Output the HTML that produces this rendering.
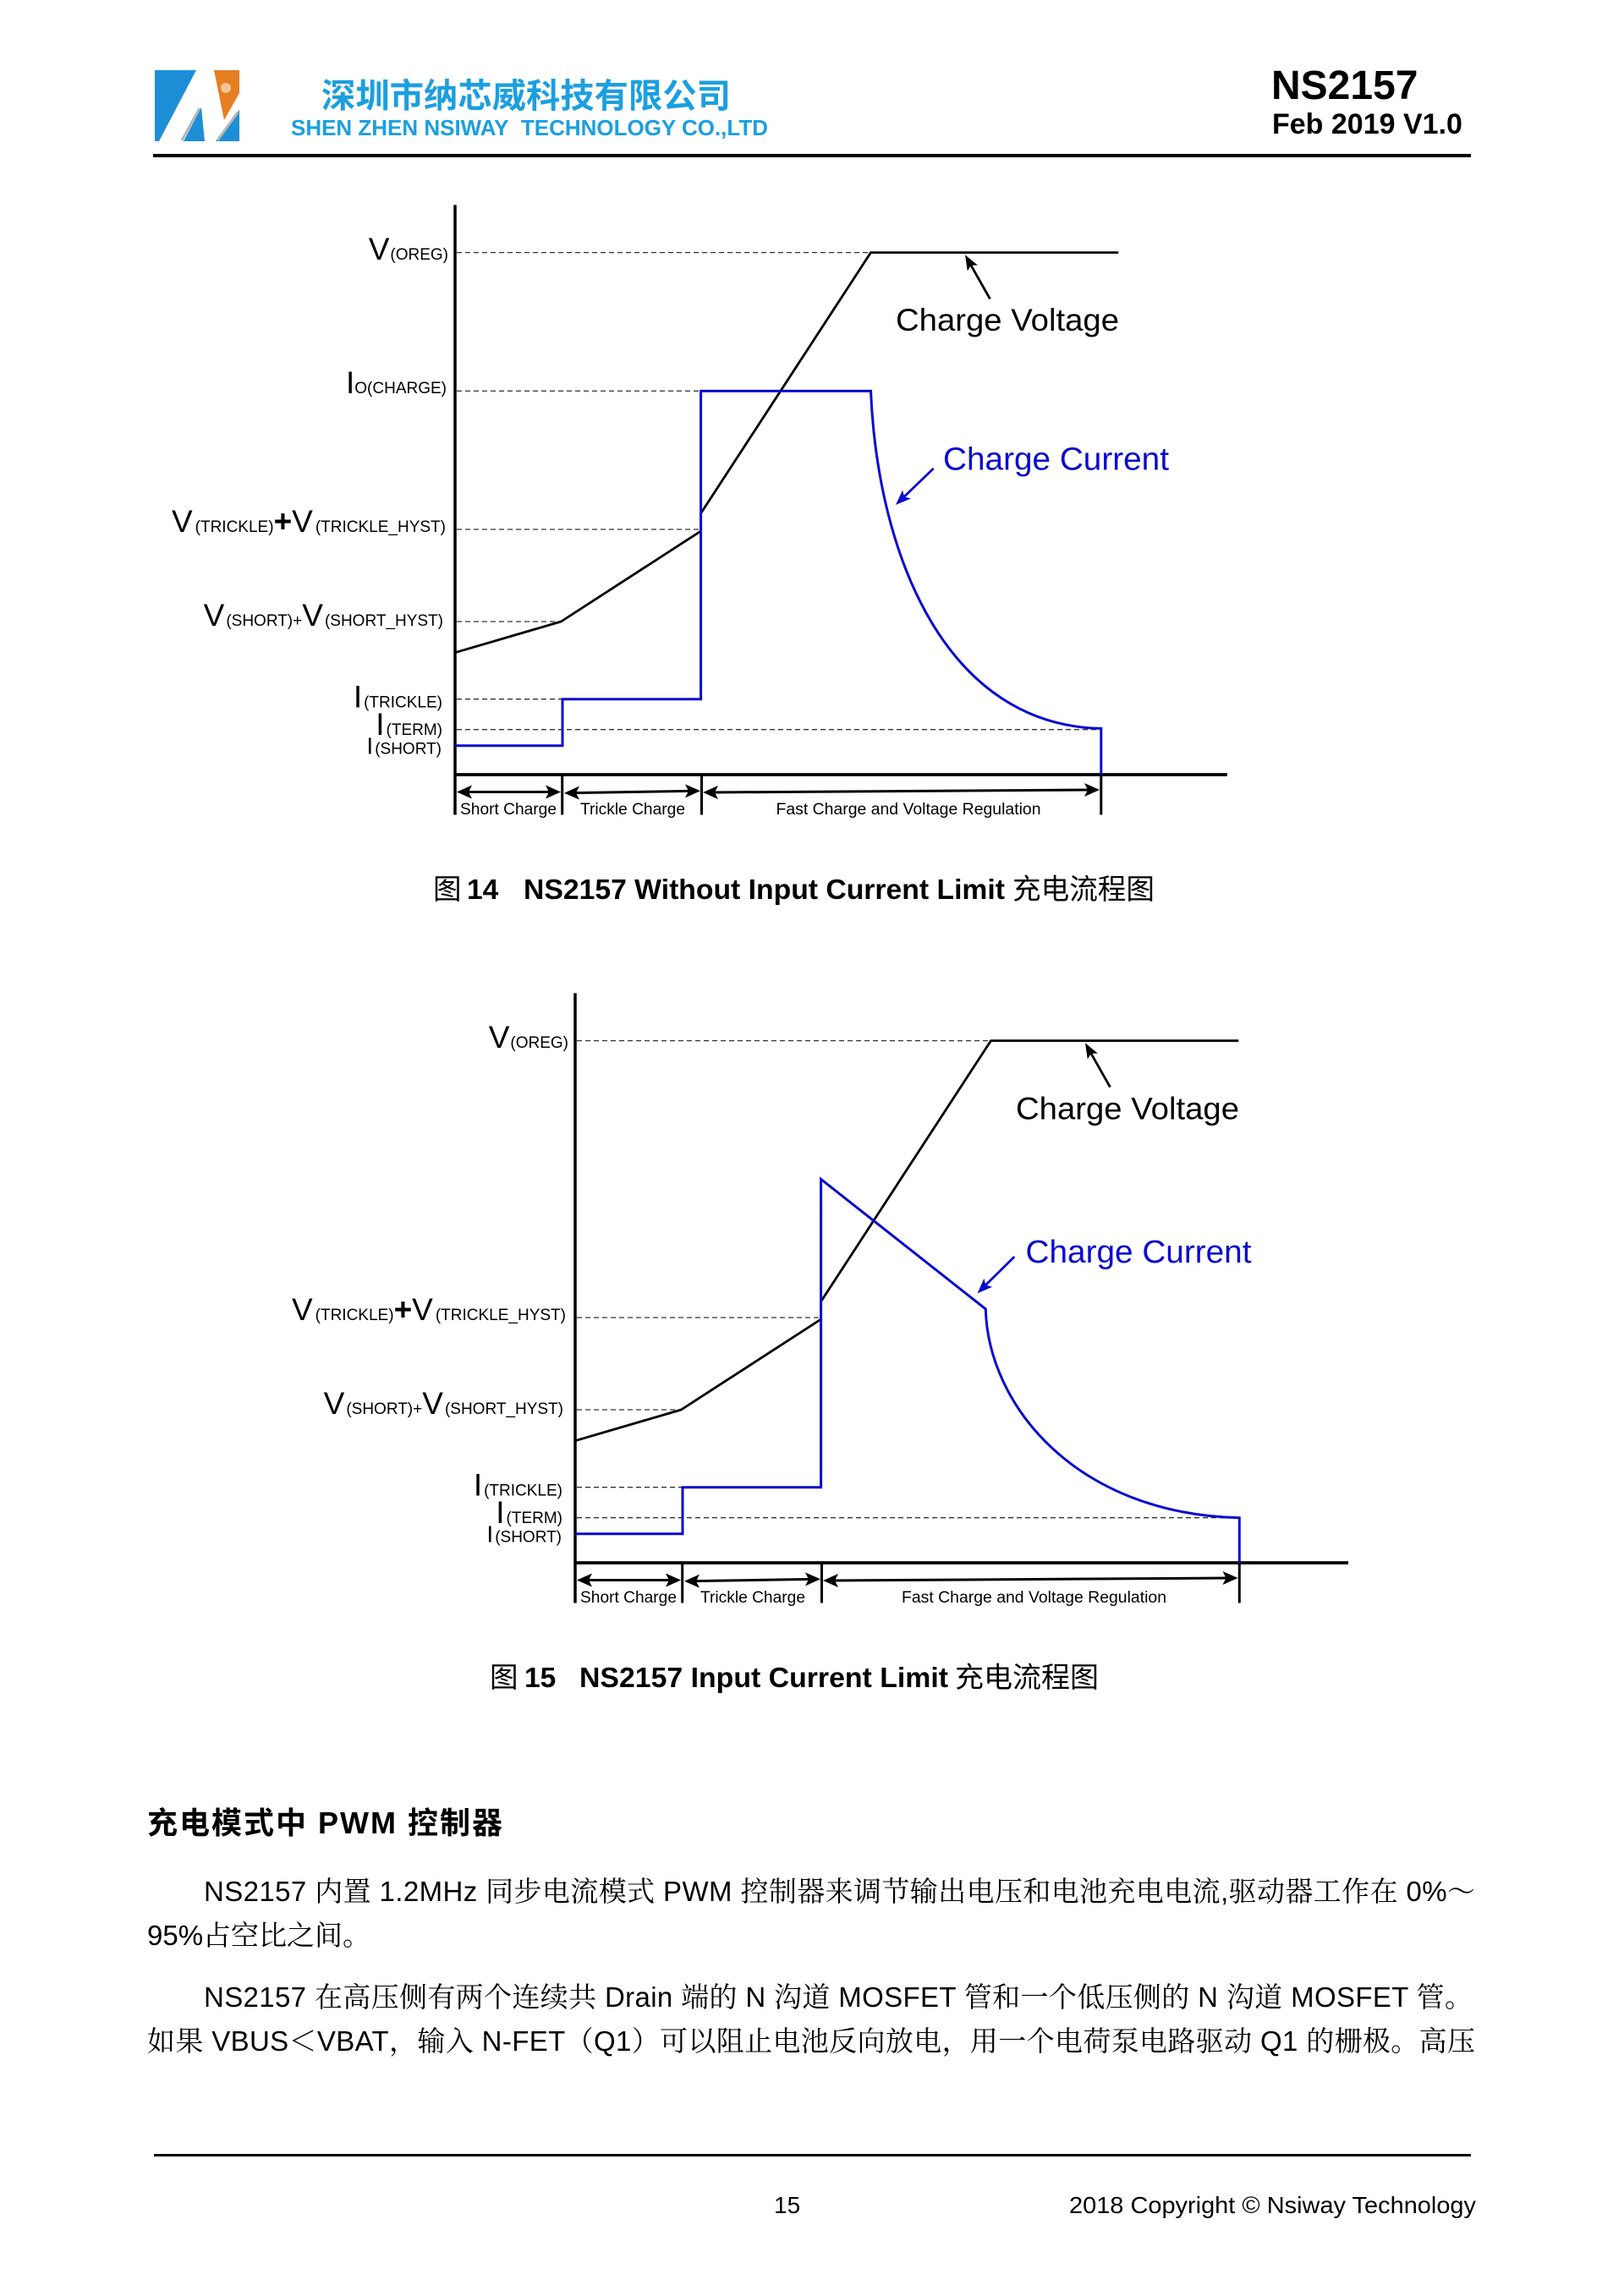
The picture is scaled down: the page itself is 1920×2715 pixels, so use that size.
<!DOCTYPE html>
<html><head><meta charset="utf-8">
<style>
html,body{margin:0;padding:0;background:#fff;}
svg{display:block;}
.s{font-family:"Liberation Sans","Noto Sans CJK SC",sans-serif;}
.b{font-family:"Liberation Sans","Noto Serif CJK SC",serif;}
.k{font-family:"Noto Sans CJK SC","WenQuanYi Zen Hei",sans-serif;}
</style></head>
<body>
<svg width="1920" height="2715" viewBox="0 0 1920 2715" xmlns="http://www.w3.org/2000/svg">
<rect width="1920" height="2715" fill="#fff"/>

<!-- ===== Header ===== -->
<polygon points="183,83 232,83 188,167 183,167" fill="#1d8fd6"/>
<polygon points="238,127 242,167 217,167" fill="#1d8fd6"/>
<polygon points="283,130 283,167 255,167" fill="#1d8fd6"/>
<polygon points="253,83 283,83 283,110 265,142" fill="#e67e22"/>
<circle cx="267" cy="104" r="6" fill="#fff" opacity=".55"/>
<line x1="236" y1="128" x2="215" y2="166" stroke="#b5b5b5" stroke-width="3"/>
<line x1="281" y1="133" x2="257" y2="166" stroke="#b5b5b5" stroke-width="3"/>

<text class="k" x="380" y="127" font-size="40" font-weight="bold" fill="#1b9fe0" textLength="484" lengthAdjust="spacingAndGlyphs">深圳市纳芯威科技有限公司</text>
<text class="s" x="344" y="160" font-size="26" font-weight="bold" fill="#1b9fe0" textLength="564" lengthAdjust="spacingAndGlyphs">SHEN ZHEN NSIWAY&#160; TECHNOLOGY CO.,LTD</text>
<text class="s" x="1503" y="117" font-size="48" font-weight="bold" fill="#000">NS2157</text>
<text class="s" x="1504" y="158" font-size="34" font-weight="bold" fill="#000">Feb 2019 V1.0</text>
<rect x="181" y="182" width="1558" height="4" fill="#000"/>

<!-- ===== Chart 1 ===== -->
<g fill="none" stroke="#333" stroke-width="1.3" stroke-dasharray="6 4">
<line x1="540" y1="298.6" x2="1029.5" y2="298.6"/>
<line x1="540" y1="462.4" x2="828.6" y2="462.4"/>
<line x1="540" y1="626" x2="828.6" y2="626"/>
<line x1="540" y1="735" x2="663.3" y2="735"/>
<line x1="540" y1="826.7" x2="665" y2="826.7"/>
<line x1="540" y1="862.7" x2="1301.8" y2="862.7"/>
</g>
<!-- axes -->
<line x1="538" y1="242.4" x2="538" y2="963.5" stroke="#000" stroke-width="3.5"/>
<line x1="536.5" y1="916" x2="1451" y2="916" stroke="#000" stroke-width="3.8"/>
<!-- voltage -->
<path d="M538,771.7 L663.3,735 L828.6,628 L828.6,607 L1029.5,298.6 L1322.3,298.6" fill="none" stroke="#000" stroke-width="2.8" stroke-linejoin="round"/>
<!-- current -->
<path d="M538,881.7 H665 V826.7 H828.6 V462.4 H1029.5 C1038,660 1120,858 1301.8,861.4 V916" fill="none" stroke="#0a0ad0" stroke-width="3" stroke-linejoin="miter"/>
<!-- ticks -->
<g stroke="#000" stroke-width="3">
<line x1="664.7" y1="916" x2="664.7" y2="963.5"/>
<line x1="829.5" y1="916" x2="829.5" y2="963.5"/>
<line x1="1301.8" y1="916" x2="1301.8" y2="963.5"/>
</g>
<!-- bottom arrows -->
<g stroke="#000" stroke-width="3">
<line x1="550" y1="936.5" x2="652" y2="936.5"/>
<line x1="678" y1="937.6" x2="816" y2="935.4"/>
<line x1="843" y1="937" x2="1288" y2="934"/>
</g>
<g fill="#000">
<polygon points="540,936.5 558,928.5 554,936.5 558,944.5"/>
<polygon points="663,936.5 645,928.5 649,936.5 645,944.5"/>
<polygon points="667,937.8 685,929.6 681,937.6 685,945.6"/>
<polygon points="828,935.2 810,927.4 814,935.4 810,943.4"/>
<polygon points="831,937 849,929 845,937 849,945"/>
<polygon points="1300,934 1282,926 1286,934 1282,942"/>
</g>
<!-- pointer arrows -->
<line x1="1170.5" y1="353.6" x2="1147.9" y2="313.6" stroke="#000" stroke-width="2.8"/>
<polygon points="1141,301.4 1155.9,313.6 1147.9,313.6 1143.8,320.5" fill="#000"/>
<line x1="1103.6" y1="554" x2="1069.1" y2="587.3" stroke="#0a0ad0" stroke-width="2.8"/>
<polygon points="1059,597 1067.1,579.5 1069.1,587.3 1076.8,589.6" fill="#0a0ad0"/>
<!-- series labels -->
<text class="s" x="1059" y="391" font-size="37.5" fill="#000" textLength="264" lengthAdjust="spacingAndGlyphs">Charge Voltage</text>
<text class="s" x="1115" y="555.6" font-size="38" fill="#0a0ad0" textLength="267" lengthAdjust="spacingAndGlyphs">Charge Current</text>
<!-- y labels -->
<g class="s" fill="#000" text-anchor="end">
<text x="530" y="307"><tspan font-size="37">V</tspan><tspan font-size="19" dx="1">(OREG)</tspan></text>
<text x="528" y="465"><tspan font-size="37">I</tspan><tspan font-size="19">O(CHARGE)</tspan></text>
<text x="527" y="629"><tspan font-size="37">V</tspan><tspan font-size="19" dx="3">(TRICKLE)</tspan><tspan font-size="37" font-weight="bold">+</tspan><tspan font-size="37">V</tspan><tspan font-size="19" dx="3">(TRICKLE_HYST)</tspan></text>
<text x="524" y="740"><tspan font-size="37">V</tspan><tspan font-size="19" dx="2">(SHORT)+</tspan><tspan font-size="37">V</tspan><tspan font-size="19" dx="2">(SHORT_HYST)</tspan></text>
<text x="523" y="836.7"><tspan font-size="37">I</tspan><tspan font-size="19" dx="2">(TRICKLE)</tspan></text>
<text x="523" y="869"><tspan font-size="37">I</tspan><tspan font-size="19" dx="2">(TERM)</tspan></text>
<text x="522" y="891.7"><tspan font-size="28">I</tspan><tspan font-size="19" dx="2">(SHORT)</tspan></text>
</g>
<!-- x labels -->
<g class="s" fill="#000" font-size="19">
<text x="544" y="963" textLength="114" lengthAdjust="spacingAndGlyphs">Short Charge</text>
<text x="686" y="963" textLength="124" lengthAdjust="spacingAndGlyphs">Trickle Charge</text>
<text x="917.5" y="963" textLength="313" lengthAdjust="spacingAndGlyphs">Fast Charge and Voltage Regulation</text>
</g>
<!-- caption 1 -->
<text class="k" x="512" y="1063" font-size="33.5" fill="#000">图</text>
<text class="s" x="552" y="1063" font-size="33.5" font-weight="bold" fill="#000">14</text>
<text class="s" x="619" y="1063" font-size="33.5" font-weight="bold" fill="#000" textLength="569" lengthAdjust="spacingAndGlyphs">NS2157 Without Input Current Limit</text>
<text class="k" x="1197" y="1063" font-size="33.5" fill="#000" textLength="168" lengthAdjust="spacingAndGlyphs">充电流程图</text>

<!-- ===== Chart 2 ===== -->
<g fill="none" stroke="#333" stroke-width="1.3" stroke-dasharray="6 4">
<line x1="682" y1="1230.6" x2="1171.5" y2="1230.6"/>
<line x1="682" y1="1558" x2="970.6" y2="1558"/>
<line x1="682" y1="1667" x2="805.3" y2="1667"/>
<line x1="682" y1="1758.7" x2="807" y2="1758.7"/>
<line x1="682" y1="1794.7" x2="1465.3" y2="1794.7"/>
</g>
<line x1="680" y1="1174.4" x2="680" y2="1895.5" stroke="#000" stroke-width="3.5"/>
<line x1="678.5" y1="1848" x2="1594" y2="1848" stroke="#000" stroke-width="3.8"/>
<path d="M680,1703.7 L805.3,1667 L970.6,1560 L970.6,1539 L1171.5,1230.6 L1464.3,1230.6" fill="none" stroke="#000" stroke-width="2.8" stroke-linejoin="round"/>
<path d="M680,1813.7 H807 V1758.7 H970.6 V1394.4 L1165.3,1547.9 C1168,1660 1270,1790 1465.3,1794.8 V1848" fill="none" stroke="#0a0ad0" stroke-width="3"/>
<g stroke="#000" stroke-width="3">
<line x1="806.7" y1="1848" x2="806.7" y2="1895.5"/>
<line x1="971.5" y1="1848" x2="971.5" y2="1895.5"/>
<line x1="1465.3" y1="1848" x2="1465.3" y2="1895.5"/>
</g>
<g stroke="#000" stroke-width="3">
<line x1="692" y1="1868.5" x2="794" y2="1868.5"/>
<line x1="820" y1="1869.6" x2="958" y2="1867.4"/>
<line x1="985" y1="1869" x2="1451" y2="1866"/>
</g>
<g fill="#000">
<polygon points="682,1868.5 700,1860.5 696,1868.5 700,1876.5"/>
<polygon points="805,1868.5 787,1860.5 791,1868.5 787,1876.5"/>
<polygon points="809,1869.8 827,1861.6 823,1869.6 827,1877.6"/>
<polygon points="970,1867.2 952,1859.4 956,1867.4 952,1875.4"/>
<polygon points="973,1869 991,1861 987,1869 991,1877"/>
<polygon points="1463.5,1866 1445.5,1858 1449.5,1866 1445.5,1874"/>
</g>
<line x1="1312.5" y1="1285.6" x2="1289.9" y2="1245.6" stroke="#000" stroke-width="2.8"/>
<polygon points="1283,1233.4 1297.9,1245.6 1289.9,1245.6 1285.8,1252.5" fill="#000"/>
<line x1="1199.3" y1="1486" x2="1165.4" y2="1519.5" stroke="#0a0ad0" stroke-width="2.8"/>
<polygon points="1155.5,1529.4 1163.4,1511.8 1165.4,1519.5 1173.2,1521.7" fill="#0a0ad0"/>
<text class="s" x="1201" y="1323.5" font-size="37.5" fill="#000" textLength="264" lengthAdjust="spacingAndGlyphs">Charge Voltage</text>
<text class="s" x="1212.5" y="1493" font-size="38" fill="#0a0ad0" textLength="267" lengthAdjust="spacingAndGlyphs">Charge Current</text>
<g class="s" fill="#000" text-anchor="end">
<text x="672" y="1239"><tspan font-size="37">V</tspan><tspan font-size="19" dx="1">(OREG)</tspan></text>
<text x="669" y="1561"><tspan font-size="37">V</tspan><tspan font-size="19" dx="3">(TRICKLE)</tspan><tspan font-size="37" font-weight="bold">+</tspan><tspan font-size="37">V</tspan><tspan font-size="19" dx="3">(TRICKLE_HYST)</tspan></text>
<text x="666" y="1672"><tspan font-size="37">V</tspan><tspan font-size="19" dx="2">(SHORT)+</tspan><tspan font-size="37">V</tspan><tspan font-size="19" dx="2">(SHORT_HYST)</tspan></text>
<text x="665" y="1768.7"><tspan font-size="37">I</tspan><tspan font-size="19" dx="2">(TRICKLE)</tspan></text>
<text x="665" y="1801"><tspan font-size="37">I</tspan><tspan font-size="19" dx="2">(TERM)</tspan></text>
<text x="664" y="1823.7"><tspan font-size="28">I</tspan><tspan font-size="19" dx="2">(SHORT)</tspan></text>
</g>
<g class="s" fill="#000" font-size="19">
<text x="686" y="1895" textLength="114" lengthAdjust="spacingAndGlyphs">Short Charge</text>
<text x="828" y="1895" textLength="124" lengthAdjust="spacingAndGlyphs">Trickle Charge</text>
<text x="1066" y="1895" textLength="313" lengthAdjust="spacingAndGlyphs">Fast Charge and Voltage Regulation</text>
</g>
<!-- caption 2 -->
<text class="k" x="579" y="1995" font-size="33.5" fill="#000">图</text>
<text class="s" x="620" y="1995" font-size="33.5" font-weight="bold" fill="#000">15</text>
<text class="s" x="685" y="1995" font-size="33.5" font-weight="bold" fill="#000" textLength="436" lengthAdjust="spacingAndGlyphs">NS2157 Input Current Limit</text>
<text class="k" x="1129" y="1995" font-size="33.5" fill="#000" textLength="170" lengthAdjust="spacingAndGlyphs">充电流程图</text>

<!-- ===== Body text ===== -->
<text x="174" y="2168" font-size="36" font-weight="bold" fill="#000" style="font-family:'Liberation Sans','Noto Sans CJK SC',sans-serif" textLength="420" lengthAdjust="spacing">充电模式中 PWM 控制器</text>
<g class="b" font-size="33" fill="#000">
<text x="241" y="2248" textLength="1503" lengthAdjust="spacing">NS2157 内置 1.2MHz 同步电流模式 PWM 控制器来调节输出电压和电池充电电流,驱动器工作在 0%～</text>
<text x="174" y="2300">95%占空比之间。</text>
<text x="241" y="2373" textLength="1500" lengthAdjust="spacing">NS2157 在高压侧有两个连续共 Drain 端的 N 沟道 MOSFET 管和一个低压侧的 N 沟道 MOSFET 管。</text>
<text x="174" y="2425" textLength="1570" lengthAdjust="spacing">如果 VBUS＜VBAT，输入 N-FET（Q1）可以阻止电池反向放电，用一个电荷泵电路驱动 Q1 的栅极。高压</text>
</g>

<!-- ===== Footer ===== -->
<rect x="182" y="2547" width="1557" height="3" fill="#000"/>
<text class="s" x="915" y="2617" font-size="28" fill="#000">15</text>
<text class="s" x="1264" y="2617" font-size="28" fill="#000" textLength="481" lengthAdjust="spacingAndGlyphs">2018 Copyright © Nsiway Technology</text>
</svg>
</body></html>
